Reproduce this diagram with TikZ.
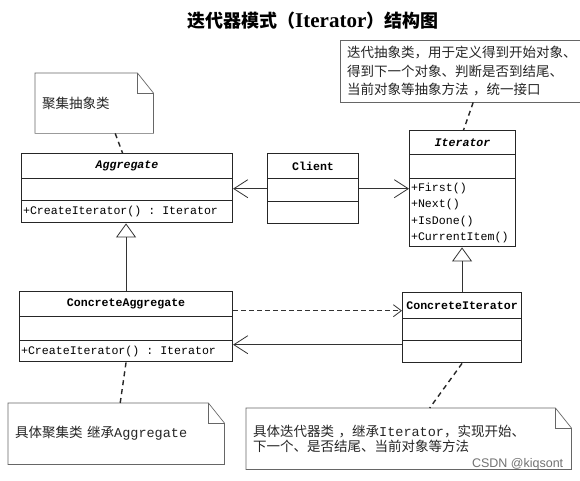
\documentclass[tikz,border=0pt]{standalone}
\usepackage{fontspec}
\setmainfont{Liberation Serif}
\setmonofont{Liberation Mono}
\setsansfont{Liberation Sans}
\newfontfamily\cjk{Noto Sans CJK SC}
\usepackage{tikz}
\usetikzlibrary{
  arrows.meta,
  shapes.multipart
}

% one compartment of a class box, with a fixed height
\newcommand{\cellbox}[2]{\vbox to #1{\vfil\hbox{#2}\vfil}}
% outline of a note with a folded corner
\newcommand{\dogear}[1]{%
  \draw[noteline] (#1.north west) -- ([xshift=-16pt]#1.north east)
    -- ([yshift=-20pt]#1.north east) -- (#1.south east)
    -- (#1.south west) -- cycle;
  \draw[noteline] ([xshift=-16pt]#1.north east) |- ([yshift=-20pt]#1.north east);
}

\begin{document}
\begin{tikzpicture}[
    x=1pt, y=-1pt,
    umlclass/.style={rectangle split, rectangle split parts=3,
                rectangle split part align={center,left,left},
                draw=black!85, line width=1.1pt, fill=white,
                inner xsep=1.5pt, inner ysep=0pt, anchor=north west,
                font=\ttfamily\fontsize{11.6}{14}\selectfont},
    note/.style={anchor=north west, inner xsep=7pt, inner ysep=0pt,
                align=left, text=black!85,
                font=\cjk\fontsize{13.5}{18.5}\selectfont},
    noteline/.style={draw=black!60, line width=0.7pt},
    notelink/.style={draw=black!85, line width=1.4pt,
                dash pattern=on 5pt off 4pt},
    assoc/.style={-{Straight Barb[length=14pt,width=18pt]},
                line width=0.8pt, black!80},
    depend/.style={-{Straight Barb[length=8pt,width=12pt]},
                line width=0.8pt, black!80, dash pattern=on 5pt off 3pt},
    inherit/.style={-{Triangle[open,length=14pt,width=20pt]},
                line width=0.8pt, black!80},
  ]
  \useasboundingbox[fill=white] (0,0) rectangle (580,481);

  % ---- Title ----
  \node[anchor=west, inner sep=0pt, font=\bfseries] (title) at (187,21)
    {{\cjk\fontsize{18}{20}\selectfont 迭代器模式（}{\fontsize{21}{22}\selectfont Iterator}{\cjk\fontsize{18}{20}\selectfont ）结构图}};

  % ---- Classes ----
  \node[umlclass, minimum width=211pt] (aggregate) at (21,153)
    {\cellbox{24pt}{\textbf{\textit{Aggregate}}}\nodepart{two}\cellbox{21pt}{}%
     \nodepart{three}\cellbox{21pt}{+CreateIterator() : Iterator}};
  \node[umlclass, minimum width=91pt] (client) at (267,153)
    {\cellbox{24pt}{\textbf{Client}}\nodepart{two}\cellbox{22pt}{}%
     \nodepart{three}\cellbox{21pt}{}};
  \node[umlclass, minimum width=106pt] (iterator) at (409,130)
    {\cellbox{23pt}{\textbf{\textit{Iterator}}}\nodepart{two}\cellbox{23pt}{}%
     \nodepart{three}\cellbox{67pt}{\vbox{\baselineskip=16.5pt
       \hbox{+First()}\hbox{+Next()}\hbox{+IsDone()}\hbox{+CurrentItem()}}}};
  \node[umlclass, minimum width=213pt] (conagg) at (19,291)
    {\cellbox{24pt}{\textbf{ConcreteAggregate}}\nodepart{two}\cellbox{23pt}{}%
     \nodepart{three}\cellbox{20pt}{+CreateIterator() : Iterator}};
  \node[umlclass, minimum width=119pt] (conit) at (402,292)
    {\cellbox{25pt}{\textbf{ConcreteIterator}}\nodepart{two}\cellbox{21pt}{}%
     \nodepart{three}\cellbox{21pt}{}};

  % ---- Notes ----
  \node[note, text width=104pt, minimum height=60pt] (aggnote) at (35,73)
    {聚集抽象类};
  \dogear{aggnote}
  \node[note, text width=236pt, minimum height=62pt] (itnote) at (340,40)
    {迭代抽象类，用于定义得到开始对象、\\得到下一个对象、判断是否到结尾、\\当前对象等抽象方法 ，统一接口};
  \draw[noteline] (itnote.north west) rectangle (itnote.south east);
  \node[note, text width=202pt, minimum height=61pt] (conaggnote) at (8,403)
    {具体聚集类 继承\texttt{Aggregate}};
  \dogear{conaggnote}
  \node[note, text width=311pt, minimum height=61pt,
        font=\cjk\fontsize{13.5}{15.5}\selectfont] (conitnote) at (246,408)
    {具体迭代器类 ，继承\texttt{Iterator}，实现开始、\\下一个、是否结尾、当前对象等方法};
  \dogear{conitnote}
  \node[anchor=base east, inner sep=0pt, text=black!55,
        font=\sffamily\fontsize{12.5}{14}\selectfont] (mark)
    at ([xshift=-8pt,yshift=2pt]conitnote.south east) {CSDN @kiqsont};

  % ---- Note links ----
  \draw[notelink] ([xshift=21pt]aggnote.south) -- ([xshift=-4.5pt]aggregate.north);
  \draw[notelink] ([xshift=8pt]itnote.south) -- ([xshift=1pt]iterator.north);
  \draw[notelink] (conagg.south) -- ([xshift=4pt]conaggnote.north);
  \draw[notelink] (conit.south) -- ([xshift=21pt]conitnote.north);

  % ---- Generalisation ----
  \draw[inherit] (conagg.north) -- (conagg.north |- aggregate.south);
  \draw[inherit] (conit.north) -- (conit.north |- iterator.south);

  % ---- Associations ----
  \draw[assoc] (client.west) -- (client.west -| aggregate.east);
  \draw[assoc] (client.east) -- (client.east -| iterator.west);
  \coordinate (dep) at ([yshift=16pt]conagg.east);
  \coordinate (back) at ([yshift=-17pt]conit.west);
  \draw[depend] (dep) -- (dep -| conit.west);
  \draw[assoc] (back) -- (back -| conagg.east);

\end{tikzpicture}
\end{document}
